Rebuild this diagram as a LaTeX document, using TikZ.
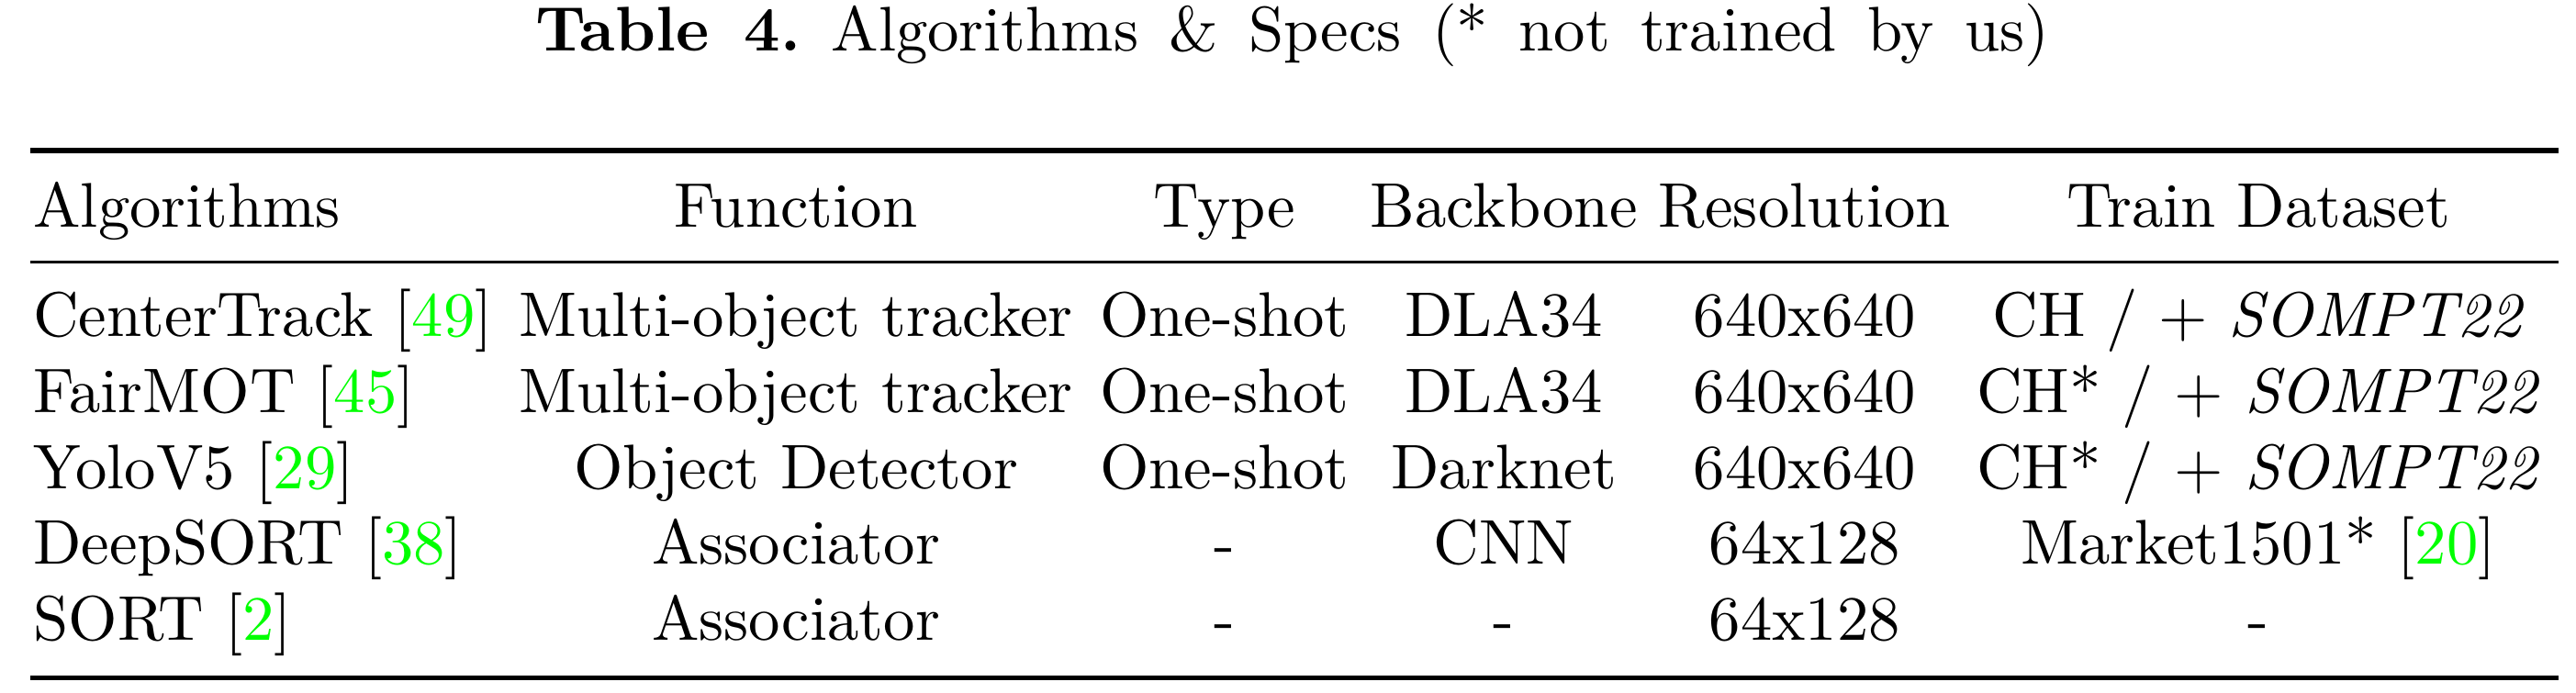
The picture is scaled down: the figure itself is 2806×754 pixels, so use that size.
\documentclass[tikz,border=0pt]{standalone}
\usepackage{xcolor}
\definecolor{citegreen}{RGB}{0,255,0}
\newcommand{\mycite}[1]{[\textcolor{citegreen}{#1}]}
\begin{document}
\begin{tikzpicture}[x=0.14556pt,y=-0.14556pt,
  cell/.style={inner sep=0pt,anchor=base},
  firstcol/.style={inner sep=0pt,anchor=base west},
  heavyrule/.style={line width=0.8pt},
  lightrule/.style={line width=0.5pt}]
\useasboundingbox (0,0) rectangle (2806,754);
% caption
\node[cell] (cap) at (1408,55) {\frenchspacing\makebox[240pt][s]{\textbf{Table 4.}\ Algorithms \& Specs (* not trained by us)}};
% rules
\coordinate (tl) at (33,164);   \coordinate (tr) at (2787,164);
\coordinate (ml) at (33,285.7); \coordinate (mr) at (2787,285.7);
\coordinate (bl) at (33,738.3); \coordinate (br) at (2787,738.3);
\draw[heavyrule] (tl) -- (tr);
\draw[lightrule] (ml) -- (mr);
\draw[heavyrule] (bl) -- (br);
% header
\node[firstcol] (h1) at (35,247) {Algorithms};
\node[cell] (h2) at (867,247) {Function};
\node[cell] (h3) at (1334,247) {Type};
\node[cell] (h4) at (1638,247) {Backbone};
\node[cell] (h5) at (1966,247) {Resolution};
\node[cell] (h6) at (2460,247) {Train Dataset};
% row 1
\node[firstcol] (a1) at (35,366.5) {CenterTrack \mycite{49}};
\node[cell] (b1) at (867,366.5) {Multi-object tracker};
\node[cell] (c1) at (1334,366.5) {One-shot};
\node[cell] (d1) at (1638,366.5) {DLA34};
\node[cell] (e1) at (1966,366.5) {640x640};
\node[cell] (f1) at (2460,366.5) {CH / + \textit{SOMPT22}};
% row 2
\node[firstcol] (a2) at (35,449.3) {FairMOT \mycite{45}};
\node[cell] (b2) at (867,449.3) {Multi-object tracker};
\node[cell] (c2) at (1334,449.3) {One-shot};
\node[cell] (d2) at (1638,449.3) {DLA34};
\node[cell] (e2) at (1966,449.3) {640x640};
\node[cell] (f2) at (2460,449.3) {CH* / + \textit{SOMPT22}};
% row 3
\node[firstcol] (a3) at (35,532.1) {YoloV5 \mycite{29}};
\node[cell] (b3) at (867,532.1) {Object Detector};
\node[cell] (c3) at (1334,532.1) {One-shot};
\node[cell] (d3) at (1638,532.1) {Darknet};
\node[cell] (e3) at (1966,532.1) {640x640};
\node[cell] (f3) at (2460,532.1) {CH* / + \textit{SOMPT22}};
% row 4
\node[firstcol] (a4) at (35,614.9) {DeepSORT \mycite{38}};
\node[cell] (b4) at (867,614.9) {Associator};
\node[cell] (c4) at (1334,614.9) {-};
\node[cell] (d4) at (1638,614.9) {CNN};
\node[cell] (e4) at (1966,614.9) {64x128};
\node[cell] (f4) at (2460,614.9) {Market1501* \mycite{20}};
% row 5
\node[firstcol] (a5) at (35,697.7) {SORT \mycite{2}};
\node[cell] (b5) at (867,697.7) {Associator};
\node[cell] (c5) at (1334,697.7) {-};
\node[cell] (d5) at (1638,697.7) {-};
\node[cell] (e5) at (1966,697.7) {64x128};
\node[cell] (f5) at (2460,697.7) {-};
\end{tikzpicture}
\end{document}
